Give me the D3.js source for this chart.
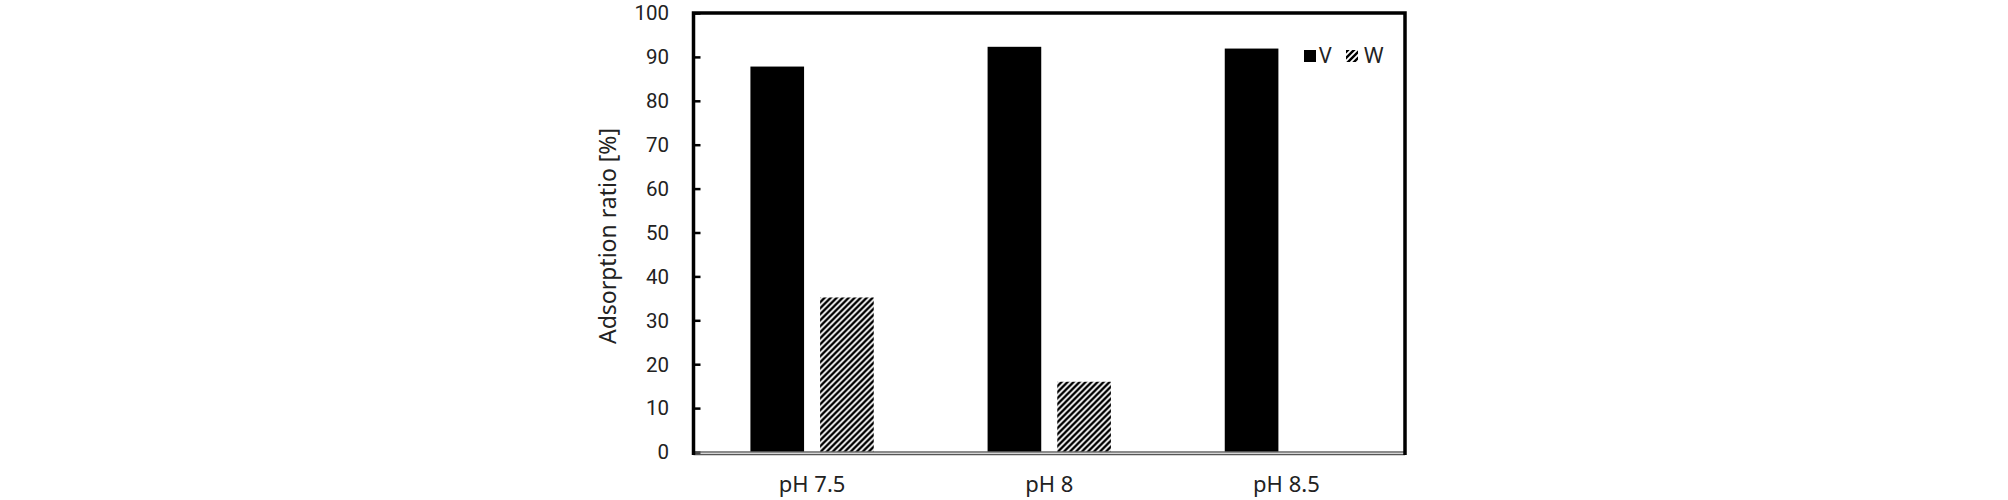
<!DOCTYPE html>
<html><head><meta charset="utf-8">
<script src="https://cdn.jsdelivr.net/npm/d3@7"></script>
<style>body{margin:0;background:#fff}svg{display:block}text{font-family:"Noto Sans",sans-serif;fill:#222}text.yt{font-family:Roboto,"Noto Sans",sans-serif}</style>
</head><body>
<script>
const categories = ["pH 7.5", "pH 8", "pH 8.5"];
const seriesNames = ["V", "W"];
const valuesV = [87.8, 92.3, 91.9];
const valuesW = [35.2, 16.0, 0];
const yTicks = [0, 10, 20, 30, 40, 50, 60, 70, 80, 90, 100];
const yTitle = "Adsorption ratio [%]";

(function () {
const W = 2008, H = 500;
const pL = 693.5, pR = 1405, pT = 13, pB = 452;
const svg = d3.select("body").append("svg").attr("width", W).attr("height", H);

const defs = svg.append("defs");
const pat = defs.append("pattern").attr("id", "hatch").attr("patternUnits", "userSpaceOnUse")
  .attr("width", 6).attr("height", 6);
pat.append("rect").attr("width", 6).attr("height", 6).attr("fill", "#fff");
pat.append("path").attr("d", "M-1,1 l2,-2 M0,6 l6,-6 M5,7 l2,-2")
  .attr("stroke", "#000").attr("stroke-width", 2.4);

const x = d3.scaleBand().domain(categories).range([pL, pR]).paddingInner(0.48).paddingOuter(0.24);
const xi = d3.scaleBand().domain(seriesNames).range([0, x.bandwidth()]).paddingInner(0.23);
const y = d3.scaleLinear().domain([0, 100]).range([pB, pT]);

const data = categories.map((c, i) => ({c, vals: [{s: "V", v: valuesV[i]}, {s: "W", v: valuesW[i]}]}));
const g = svg.append("g");
g.selectAll("g.cat").data(data).join("g").attr("transform", d => `translate(${x(d.c)},0)`)
  .selectAll("rect").data(d => d.vals.filter(e => e.v > 0)).join("rect")
  .attr("x", d => xi(d.s)).attr("width", xi.bandwidth())
  .attr("y", d => y(d.v)).attr("height", d => y(0) - y(d.v))
  .attr("fill", d => d.s === "V" ? "#000" : "url(#hatch)");

// Y axis (ticks inside)
const yAxis = d3.axisRight(y).tickValues(yTicks).tickSize(7).tickFormat("");
const ya = svg.append("g").attr("transform", `translate(${pL},0)`).call(yAxis);
ya.select(".domain").remove();
ya.selectAll(".tick line").attr("stroke", "#000").attr("stroke-width", 2.5);
svg.append("g").selectAll("text").data(yTicks).join("text").attr("class", "yt")
  .attr("x", 669).attr("y", d => y(d)).attr("dy", "0.36em").attr("text-anchor", "end")
  .attr("font-size", 20.5).text(d => d);

// bottom axis (double gray line)
svg.append("line").attr("x1", pL).attr("x2", pR).attr("y1", pB).attr("y2", pB)
  .attr("stroke", "#666").attr("stroke-width", 1.5);
svg.append("line").attr("x1", pL).attr("x2", pR).attr("y1", pB + 2.5).attr("y2", pB + 2.5)
  .attr("stroke", "#555").attr("stroke-width", 1.5);
// frame: left, top, right
svg.append("path").attr("d", `M${pL},${pB + 3}V${pT}H${pR}V${pB + 3}`)
  .attr("fill", "none").attr("stroke", "#000").attr("stroke-width", 3.5);

// x labels
svg.append("g").selectAll("text").data(categories).join("text")
  .attr("x", d => x(d) + x.bandwidth() / 2).attr("y", 492).attr("text-anchor", "middle")
  .attr("font-size", 22).text(d => d);

// y title
svg.append("text").attr("transform", `translate(${616},${236}) rotate(-90)`)
  .attr("text-anchor", "middle").attr("font-size", 23).text(yTitle);

// legend
const lg = svg.append("g");
lg.append("rect").attr("x", 1304).attr("y", 50).attr("width", 12).attr("height", 12).attr("fill", "#000");
lg.append("text").attr("x", 1319).attr("y", 63).attr("font-size", 21).text(seriesNames[0]);
lg.append("rect").attr("x", 1346).attr("y", 50).attr("width", 12).attr("height", 12).attr("fill", "url(#hatch)");
lg.append("text").attr("x", 1364).attr("y", 63).attr("font-size", 21).text(seriesNames[1]);
})();
</script>
</body></html>
